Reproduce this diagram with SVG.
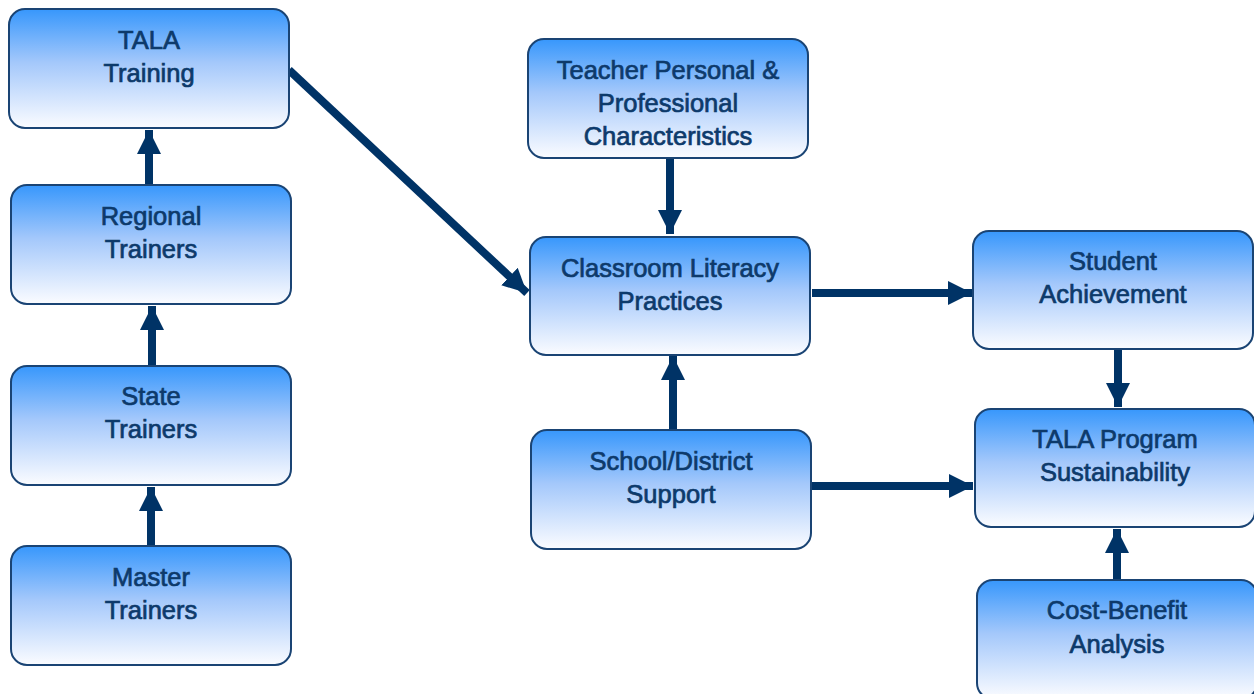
<svg xmlns="http://www.w3.org/2000/svg" width="1254" height="694" viewBox="0 0 1254 694">
<style>
.box{fill:url(#g);stroke:#1a4474;stroke-width:2}
.t{font-family:"Liberation Sans",Arial,sans-serif;font-size:25.5px;fill:#0d3a6b;stroke:#0d3a6b;stroke-width:0.7px;text-anchor:middle}
.c{stroke:#003366;stroke-width:8;fill:none;marker-end:url(#ah)}
</style>
<defs>
<linearGradient id="g" x1="0" y1="0" x2="0" y2="1">
<stop offset="0" stop-color="#3797fc"/>
<stop offset="0.45" stop-color="#a4c8fb"/>
<stop offset="1" stop-color="#fbfcff"/>
</linearGradient>
<marker id="ah" markerUnits="userSpaceOnUse" markerWidth="26" markerHeight="26" viewBox="0 0 26 26" refX="24" refY="13" orient="auto">
<path d="M0,1 L24,13 L0,25 Z" fill="#003366"/>
</marker>
</defs>
<g id="connectors">
<line class="c" x1="149" y1="184" x2="149" y2="130"/>
<line class="c" x1="152" y1="365" x2="152" y2="306"/>
<line class="c" x1="151" y1="545" x2="151" y2="487"/>
<line class="c" x1="289" y1="70" x2="527" y2="293"/>
<line class="c" x1="670" y1="158" x2="670" y2="234"/>
<line class="c" x1="673" y1="430" x2="673" y2="356"/>
<line class="c" x1="812" y1="293" x2="972" y2="293"/>
<line class="c" x1="812" y1="486" x2="973" y2="486"/>
<line class="c" x1="1118" y1="349" x2="1118" y2="407"/>
<line class="c" x1="1117" y1="580" x2="1117" y2="529"/>
</g>
<g id="tala-training"><rect class="box" x="9" y="9" width="280" height="119" rx="16"/><text class="t" x="149" y="49">TALA</text><text class="t" x="149" y="82">Training</text></g>
<g id="regional-trainers"><rect class="box" x="11" y="185" width="280" height="119" rx="16"/><text class="t" x="151" y="225">Regional</text><text class="t" x="151" y="258">Trainers</text></g>
<g id="state-trainers"><rect class="box" x="11" y="366" width="280" height="119" rx="16"/><text class="t" x="151" y="405">State</text><text class="t" x="151" y="438">Trainers</text></g>
<g id="master-trainers"><rect class="box" x="11" y="546" width="280" height="119" rx="16"/><text class="t" x="151" y="586">Master</text><text class="t" x="151" y="619">Trainers</text></g>
<g id="teacher"><rect class="box" x="528" y="39" width="280" height="119" rx="16"/><text class="t" x="668" y="79">Teacher Personal &amp;</text><text class="t" x="668" y="112">Professional</text><text class="t" x="668" y="145">Characteristics</text></g>
<g id="classroom"><rect class="box" x="530" y="237" width="280" height="118" rx="16"/><text class="t" x="670" y="277">Classroom Literacy</text><text class="t" x="670" y="310">Practices</text></g>
<g id="school-district"><rect class="box" x="531" y="430" width="280" height="119" rx="16"/><text class="t" x="671" y="470">School/District</text><text class="t" x="671" y="503">Support</text></g>
<g id="student"><rect class="box" x="973" y="231" width="280" height="118" rx="16"/><text class="t" x="1113" y="270">Student</text><text class="t" x="1113" y="303">Achievement</text></g>
<g id="tala-program"><rect class="box" x="975" y="409" width="280" height="118" rx="16"/><text class="t" x="1115" y="448">TALA Program</text><text class="t" x="1115" y="481">Sustainability</text></g>
<g id="cost-benefit"><rect class="box" x="977" y="580" width="280" height="119" rx="16"/><text class="t" x="1117" y="619">Cost-Benefit</text><text class="t" x="1117" y="653">Analysis</text></g>
</svg>
